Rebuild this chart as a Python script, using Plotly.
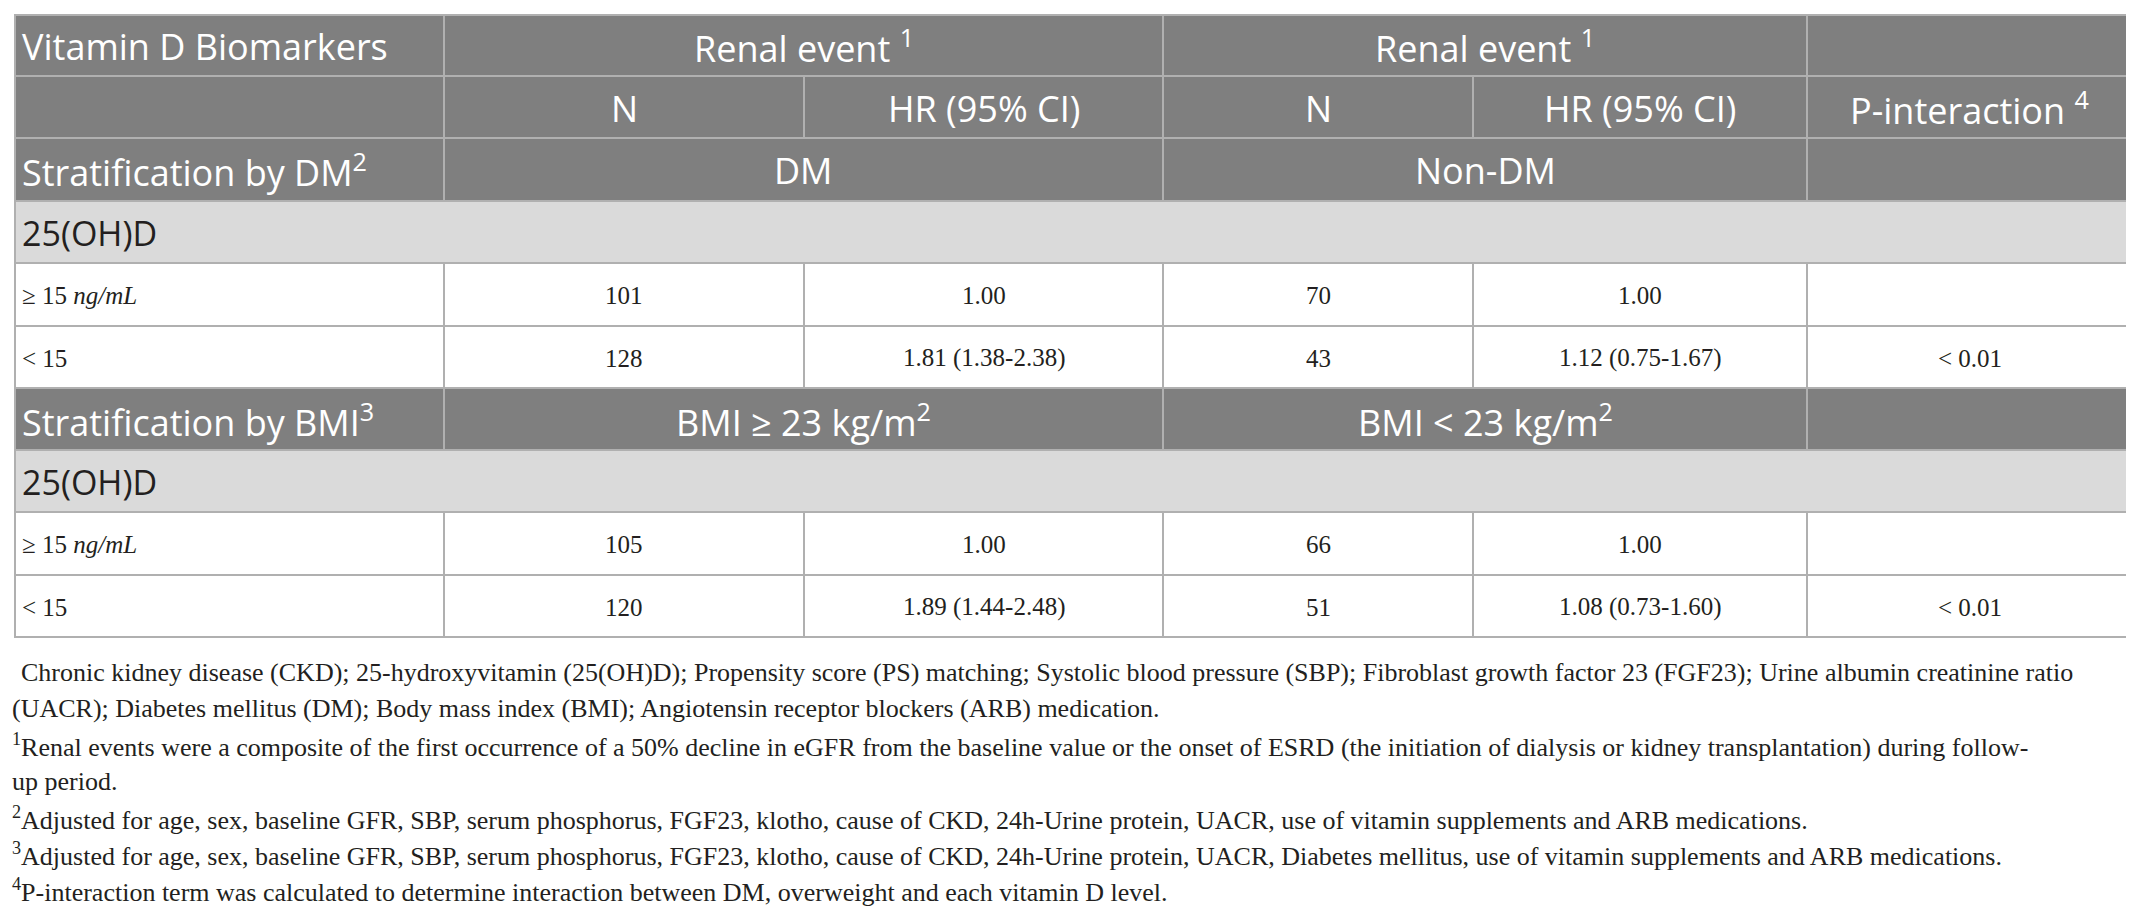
import plotly.graph_objects as go

# table content
strata_titles = ["Stratification by DM<sup>2</sup>", "Stratification by BMI<sup>3</sup>"]
strata_groups = [["DM", "Non-DM"], ["BMI ≥ 23 kg/m<sup>2</sup>", "BMI < 23 kg/m<sup>2</sup>"]]
marker = "25(OH)D"
levels = ["≥ 15 <i>ng/mL</i>", "< 15"]

dm_n = ["101", "128"]
dm_hr = ["1.00", "1.81 (1.38-2.38)"]
nondm_n = ["70", "43"]
nondm_hr = ["1.00", "1.12 (0.75-1.67)"]
p_dm = ["", "< 0.01"]

bmi_hi_n = ["105", "120"]
bmi_hi_hr = ["1.00", "1.89 (1.44-2.48)"]
bmi_lo_n = ["66", "51"]
bmi_lo_hr = ["1.00", "1.08 (0.73-1.60)"]
p_bmi = ["", "< 0.01"]

footnotes = [
    "Chronic kidney disease (CKD); 25-hydroxyvitamin (25(OH)D); Propensity score (PS) matching; Systolic blood pressure (SBP); Fibroblast growth factor 23 (FGF23); Urine albumin creatinine ratio",
    "(UACR); Diabetes mellitus (DM); Body mass index (BMI); Angiotensin receptor blockers (ARB) medication.",
    "<sup>1</sup>Renal events were a composite of the first occurrence of a 50% decline in eGFR from the baseline value or the onset of ESRD (the initiation of dialysis or kidney transplantation) during follow-",
    "up period.",
    "<sup>2</sup>Adjusted for age, sex, baseline GFR, SBP, serum phosphorus, FGF23, klotho, cause of CKD, 24h-Urine protein, UACR, use of vitamin supplements and ARB medications.",
    "<sup>3</sup>Adjusted for age, sex, baseline GFR, SBP, serum phosphorus, FGF23, klotho, cause of CKD, 24h-Urine protein, UACR, Diabetes mellitus, use of vitamin supplements and ARB medications.",
    "<sup>4</sup>P-interaction term was calculated to determine interaction between DM, overweight and each vitamin D level.",
]

# layout (pixels)
col_edges = [7, 436, 796, 1155, 1465, 1799, 2124]
row_edges = [7, 68, 130, 193, 255, 318, 380, 442, 504, 567, 629]
note_y = [664, 700, 737, 773, 810, 846, 882]
note_x = [12, 3, 3, 3, 3, 3, 3]

DARK = "#7f7f7f"
LIGHT = "#dadada"
LINE = "#b0b0b0"
SANS = "Open Sans"
SERIF = "Liberation Serif"
INK = "#231f20"

shapes = []
annotations = []


def cell(r, c0, c1, fill, text="", align="center", font=None):
    x0, x1 = col_edges[c0], col_edges[c1 + 1]
    y0, y1 = row_edges[r], row_edges[r + 1]
    shapes.append(dict(type="rect", xref="x", yref="y", x0=x0, x1=x1, y0=y0, y1=y1,
                       fillcolor=fill, line=dict(color=LINE, width=2), layer="below"))
    if text:
        if align == "left":
            x, xa = x0 + 5, "left"
        else:
            x, xa = (x0 + x1) / 2, "center"
        annotations.append(dict(x=x, y=(y0 + y1) / 2 + 1, xref="x", yref="y", text=text,
                                showarrow=False, xanchor=xa, yanchor="middle", font=font))


head_font = dict(family=SANS, size=36, color="white")
sect_font = dict(family=SANS, size=34, color=INK)
body_font = dict(family=SERIF, size=25, color=INK)

# header rows
cell(0, 0, 0, DARK, "Vitamin D Biomarkers", "left", head_font)
cell(0, 1, 2, DARK, "Renal event <sup>1</sup>", font=head_font)
cell(0, 3, 4, DARK, "Renal event <sup>1</sup>", font=head_font)
cell(0, 5, 5, DARK)
cell(1, 0, 0, DARK)
for c, t in enumerate(["N", "HR (95% CI)", "N", "HR (95% CI)", "P-interaction <sup>4</sup>"]):
    cell(1, c + 1, c + 1, DARK, t, font=head_font)

blocks = [
    (dm_n, dm_hr, nondm_n, nondm_hr, p_dm),
    (bmi_hi_n, bmi_hi_hr, bmi_lo_n, bmi_lo_hr, p_bmi),
]

r = 2
for k, (n1, hr1, n2, hr2, p) in enumerate(blocks):
    cell(r, 0, 0, DARK, strata_titles[k], "left", head_font)
    cell(r, 1, 2, DARK, strata_groups[k][0], font=head_font)
    cell(r, 3, 4, DARK, strata_groups[k][1], font=head_font)
    cell(r, 5, 5, DARK)
    cell(r + 1, 0, 5, LIGHT, marker, "left", sect_font)
    for i, lv in enumerate(levels):
        rr = r + 2 + i
        cell(rr, 0, 0, "white", lv, "left", body_font)
        cell(rr, 1, 1, "white", n1[i], font=body_font)
        cell(rr, 2, 2, "white", hr1[i], font=body_font)
        cell(rr, 3, 3, "white", n2[i], font=body_font)
        cell(rr, 4, 4, "white", hr2[i], font=body_font)
        cell(rr, 5, 5, "white", p[i], font=body_font)
    r += 4

for x, y, t in zip(note_x, note_y, footnotes):
    annotations.append(dict(x=x, y=y, xref="x", yref="y", text=t, showarrow=False,
                            xanchor="left", yanchor="middle", borderpad=0,
                            font=dict(family=SERIF, size=26, color=INK)))

fig = go.Figure()
fig.update_layout(
    width=2134, height=907,
    margin=dict(l=0, r=0, t=0, b=0),
    paper_bgcolor="white", plot_bgcolor="white",
    xaxis=dict(range=[0, 2134], visible=False, fixedrange=True),
    yaxis=dict(range=[907, 0], visible=False, fixedrange=True),
    shapes=shapes, annotations=annotations,
    showlegend=False,
)
fig.write_html("out.html")
